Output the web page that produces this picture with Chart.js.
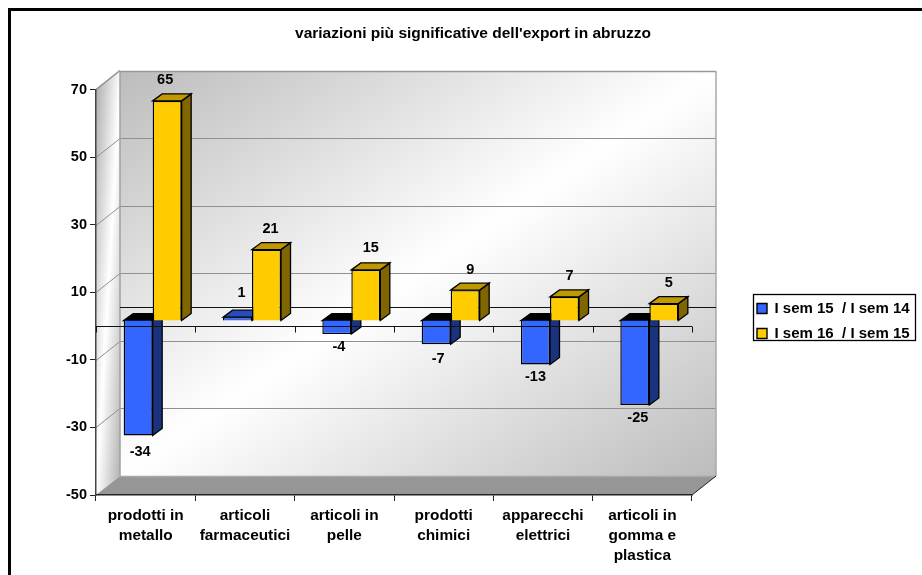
<!DOCTYPE html>
<html>
<head>
<meta charset="utf-8">
<style>html,body{margin:0;padding:0;background:#fff}canvas{display:block}</style>
<script src="https://cdn.jsdelivr.net/npm/chart.js@4/dist/chart.umd.min.js"></script>
</head>
<body>
<canvas id="c" width="922" height="575"></canvas>
<script>
const chartTitle = "variazioni più significative dell'export in abruzzo";
const categories = [["prodotti in","metallo"],["articoli","farmaceutici"],["articoli in","pelle"],["prodotti","chimici"],["apparecchi","elettrici"],["articoli in","gomma e","plastica"]];
const seriesNames = ["I sem 15  / I sem 14","I sem 16  / I sem 15"];
const sem15 = [-34, 1, -4, -7, -13, -25];
const sem16 = [65, 21, 15, 9, 7, 5];
const frontColors = ["#3366FF","#FFCC00"];
const sideColors = ["#1A337F","#806600"];
const topColors = ["#264CBF","#BF9900"];
const FONT = "'Liberation Sans', Arial, sans-serif";

const WALL = {dx:24, dy:-19};
const BAR_SHIFT = {dx:7, dy:-5.5};
const BAR_DEPTH = {dx:9.5, dy:-7};
const LABEL_NUDGE = [
  [[0,4],[5,-3],[0,0],[0,2],[-2,0],[1,0]],
  [[-1,1],[5,1],[6,0],[6,1],[6,1],[6,1]]
];

function poly(ctx, pts, fill, stroke, lw){
  ctx.beginPath();
  pts.forEach((p,i)=> i? ctx.lineTo(p[0],p[1]) : ctx.moveTo(p[0],p[1]));
  ctx.closePath();
  if(fill){ctx.fillStyle=fill;ctx.fill();}
  if(stroke){ctx.strokeStyle=stroke;ctx.lineWidth=lw||1;ctx.stroke();}
}
function line(ctx,x1,y1,x2,y2,color,lw){
  ctx.beginPath();ctx.moveTo(x1,y1);ctx.lineTo(x2,y2);
  ctx.strokeStyle=color;ctx.lineWidth=lw;ctx.stroke();
}
function diagGradient(ctx,l,t,r,b,edge){
  const w=r-l,h=b-t,cx=(l+r)/2,cy=(t+b)/2,len=Math.hypot(w,h);
  const ux=h/len,uy=w/len,half=(w/2)*ux+(h/2)*uy;
  const g=ctx.createLinearGradient(cx-ux*half,cy-uy*half,cx+ux*half,cy+uy*half);
  g.addColorStop(0,edge);g.addColorStop(.5,'#ffffff');g.addColorStop(1,edge);
  return g;
}

const scene = {
  id:'scene',
  afterLayout(chart){
    const t=chart.titleBlock; t.left+=127; t.right+=127;
    const lg=chart.legend;
    const w=lg.width,h=lg.height;
    lg.left=747; lg.right=747+w; lg.top=291; lg.bottom=291+h;
  },
  beforeDraw(chart){
    const ctx=chart.ctx,{left:L,right:R,top:T,bottom:B}=chart.chartArea,y=chart.scales.y;
    const dx=WALL.dx,dy=WALL.dy;
    const top=Math.round(T),bot=Math.round(B);
    ctx.save();
    ctx.fillStyle='#fff';ctx.fillRect(0,0,chart.width,chart.height);
    line(ctx,9.5,575,9.5,9.5,'#000',3);
    line(ctx,8,9.5,922,9.5,'#000',3);
    poly(ctx,[[L+dx,top+dy],[R+dx,top+dy],[R+dx,bot+dy],[L+dx,bot+dy]],diagGradient(ctx,L+dx,top+dy,R+dx,bot+dy,'#bcbcbc'));
    poly(ctx,[[L,T],[L+dx,T+dy],[L+dx,B+dy],[L,B]],diagGradient(ctx,L,T,L+dx,B,'#b0b0b0'));
    poly(ctx,[[L,B],[L+dx,B+dy],[R+dx,B+dy],[R,B]],'#969696');
    y.ticks.forEach(tk=>{
      const py=Math.round(y.getPixelForValue(tk.value))+.5;
      if(tk.value>-50&&tk.value<70){
        line(ctx,L+dx,py+dy,R+dx,py+dy,'#909090',1);
        line(ctx,L,py,L+dx,py+dy,'#909090',1);
      }
    });
    line(ctx,L,T,L+dx,T+dy,'#8c8c8c',1.5);
    line(ctx,L+dx,top+dy+.5,R+dx,top+dy+.5,'#969696',1.5);
    line(ctx,R+dx,top+dy,R+dx,bot+dy,'#a8a8a8',1.5);
    line(ctx,L+dx,top+dy,L+dx,bot+dy,'#a0a0a0',1.5);
    line(ctx,L+dx,bot+dy+.5,R+dx,bot+dy+.5,'#a8a8a8',1.5);
    line(ctx,R,B,R+dx,B+dy,'#222',1);
    const z=Math.round(y.getPixelForValue(0))+.5;
    line(ctx,L+dx,z+dy,R+dx,z+dy,'#111',1);
    ctx.restore();
  },
  beforeDatasetsDraw(chart){
    const ctx=chart.ctx,{left:L,right:R}=chart.chartArea,y=chart.scales.y,x=chart.scales.x;
    ctx.save();
    ctx.translate(BAR_SHIFT.dx,BAR_SHIFT.dy);
    const n=categories.length;
    for(let i=0;i<n;i++){
      chart.data.datasets.forEach((ds,d)=>{
        const el=chart.getDatasetMeta(d).data[i];
        const p=el.getProps(['x','y','base','width'],true);
        const l=p.x-p.width/2,r=p.x+p.width/2,t=Math.min(p.y,p.base),b=Math.max(p.y,p.base);
        const ax=BAR_DEPTH.dx,ay=BAR_DEPTH.dy;
        poly(ctx,[[r,t],[r+ax,t+ay],[r+ax,b+ay],[r,b]],sideColors[d],'#000',1.3);
        poly(ctx,[[l,t],[l+ax,t+ay],[r+ax,t+ay],[r,t]],ds.data[i]<0?'#000':topColors[d],'#000',1.3);
        el.draw(ctx);
      });
    }
    ctx.restore();
    const z=Math.round(y.getPixelForValue(0))+.5;
    line(ctx,L,z,R,z,'#111',1);
    const half=(x.getPixelForValue(1)-x.getPixelForValue(0))/2;
    for(let i=0;i<=n;i++){
      const px=Math.round(x.getPixelForValue(0)-half+i*half*2)+.5;
      line(ctx,px,z,px,z+6,'#111',1);
    }
    ctx.save();
    ctx.font="bold 14.5px "+FONT;
    ctx.fillStyle='#000';ctx.textAlign='center';ctx.textBaseline='middle';
    chart.data.datasets.forEach((ds,d)=>{
      chart.getDatasetMeta(d).data.forEach((el,i)=>{
        const v=ds.data[i];
        const p=el.getProps(['x','y'],true);
        const px=p.x+BAR_SHIFT.dx+(v<0?2:-1)+LABEL_NUDGE[d][i][0];
        const py=p.y-6+(v<0?13:-21)+LABEL_NUDGE[d][i][1];
        ctx.fillText(String(v),px,py);
      });
    });
    ctx.restore();
    return false;
  },
  afterDraw(chart){
    const ctx=chart.ctx,lg=chart.legend;
    ctx.save();
    ctx.strokeStyle='#000';ctx.lineWidth=1.3;
    ctx.strokeRect(lg.left+6.5,lg.top+3.5,162,46);
    ctx.restore();
  }
};

new Chart(document.getElementById('c'),{
  type:'bar',
  data:{
    labels:categories,
    datasets:[
      {label:seriesNames[0],data:sem15,backgroundColor:frontColors[0],borderColor:'#000',borderWidth:1.4},
      {label:seriesNames[1],data:sem16,backgroundColor:frontColors[1],borderColor:'#000',borderWidth:1.4}
    ]
  },
  options:{
    responsive:false,
    animation:false,
    events:[],
    categoryPercentage:.584,
    barPercentage:1,
    layout:{padding:{left:0,right:230,top:0,bottom:0}},
    plugins:{
      tooltip:{enabled:false},
      title:{display:true,text:chartTitle,color:'#000',
        font:{family:FONT,size:15.5,weight:'bold',lineHeight:1.2},
        padding:{top:24,bottom:46.9}},
      legend:{
        position:'chartArea',align:'start',
        labels:{boxWidth:10,boxHeight:10,padding:10,color:'#000',
          font:{family:FONT,size:15,weight:'bold'}}
      }
    },
    scales:{
      x:{
        afterFit(s){s.height=80;},
        grid:{offset:true,drawOnChartArea:false,drawTicks:true,tickLength:6,tickColor:'#222',tickWidth:1},
        border:{color:'#222',width:1.5},
        ticks:{color:'#000',maxRotation:0,minRotation:0,autoSkip:false,padding:5,
          font:{family:FONT,size:15.4,weight:'bold',lineHeight:1.3}}
      },
      y:{
        min:-50,max:70,
        afterFit(s){s.width=96;},
        grid:{drawOnChartArea:false,drawTicks:true,tickLength:6,tickColor:'#222',tickWidth:1},
        border:{color:'#444',width:1.5},
        ticks:{stepSize:20,color:'#000',padding:3,font:{family:FONT,size:14.5,weight:'bold'}}
      }
    }
  },
  plugins:[scene]
});
</script>
</body>
</html>
